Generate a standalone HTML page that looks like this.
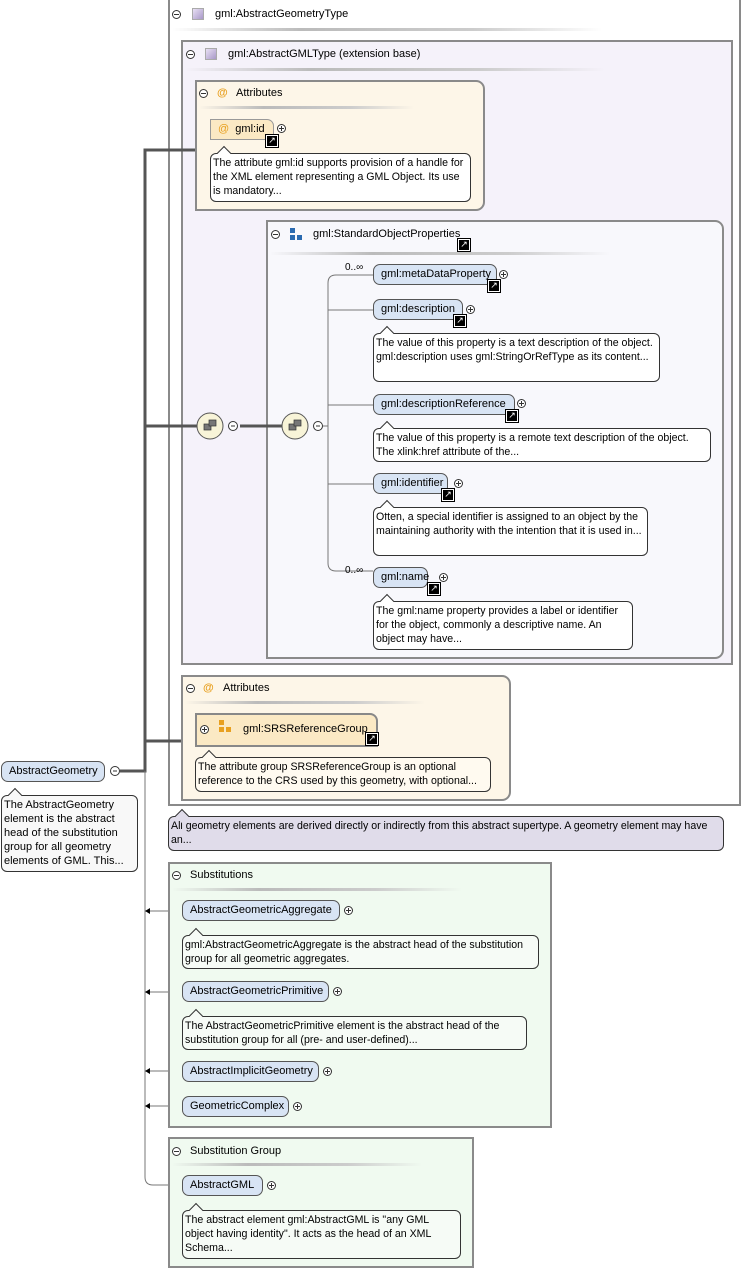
<!DOCTYPE html>
<html><head><meta charset="utf-8"><style>
body{margin:0;width:742px;height:1270px;background:#fff;position:relative;overflow:hidden;font-family:"Liberation Sans",sans-serif;font-size:11px;color:#000}
.a{position:absolute;box-sizing:border-box}
.box{border:2px solid #8a8a8a}
.hdr{position:absolute;white-space:nowrap}
.sep{position:absolute;height:3px;background:linear-gradient(90deg,#fff0,#bbb 30%,#ccc 70%,#fff0)}
.mn{position:absolute;width:9px;height:9px;border:1px solid #333;border-radius:50%;background:#fff;box-sizing:border-box}
.mn:after{content:"";position:absolute;left:1px;right:1px;top:3px;height:1px;background:#333}
.pl:before{content:"";position:absolute;top:1px;bottom:1px;left:3px;width:1px;background:#333}
.el{position:absolute;height:21px;border:1px solid #555;border-radius:7px;background:#d8e4f4;box-sizing:border-box;padding:0 7px;line-height:19px;white-space:nowrap}
.desc{position:absolute;border:1px solid #333;border-radius:6px;background:#fff;box-sizing:border-box;padding:2px 2px;line-height:14px;font-size:10.6px}
.desc:before{content:"";position:absolute;left:8px;top:-6px;width:9px;height:9px;background:inherit;border-left:1px solid #333;border-top:1px solid #333;transform:rotate(45deg)}
.lk{position:absolute;width:10px;height:10px;background:#000;border:1px solid #fff;outline:1px solid #000;color:#fff;font-size:9px;line-height:9px;text-align:center}
.sq{position:absolute;width:12px;height:12px;background:linear-gradient(135deg,#e8e0f4,#a898c8);border:1px solid #aaa;box-sizing:border-box}
.at{position:absolute;color:#e8a020;font-weight:bold}
</style></head><body>

<div class="a box" style="left:168px;top:-2px;width:573px;height:808px;background:#fff"></div>
<div class="mn" style="left:172px;top:10px"></div><div class="sq" style="left:192px;top:8px"></div>
<div class="hdr" style="left:215px;top:8px">gml:AbstractGeometryType</div>
<div class="sep" style="left:172px;top:28px;width:430px"></div>

<div class="a box" style="left:181px;top:40px;width:552px;height:625px;background:#f5f2fa"></div>
<div class="mn" style="left:186px;top:50px"></div><div class="sq" style="left:205px;top:48px"></div>
<div class="hdr" style="left:228px;top:48px">gml:AbstractGMLType (extension base)</div>
<div class="sep" style="left:185px;top:68px;width:420px"></div>

<div class="a box" style="left:195px;top:80px;width:290px;height:131px;background:#fdf6e8;border-radius:0 9px 9px 0"></div>
<div class="mn" style="left:199px;top:89px"></div><div class="at" style="left:217px;top:87px">@</div>
<div class="hdr" style="left:236px;top:87px">Attributes</div>
<div class="sep" style="left:199px;top:106px;width:215px"></div>
<div class="el" style="left:210px;top:119px;width:64px;background:#fbe9c4;border-color:#999;border-radius:0 7px 0 0;padding-left:7px"><span style="color:#e8a020">@</span>&nbsp; gml:id</div>
<div class="lk" style="left:266px;top:135px">↗</div>
<div class="mn pl" style="left:277px;top:124px"></div>
<div class="desc" style="left:210px;top:153px;width:261px;height:49px;background:#fff">The attribute gml:id supports provision of a handle for the XML element representing a GML Object. Its use is mandatory...</div>

<div class="a box" style="left:266px;top:220px;width:458px;height:439px;background:#f8f8fc;border-radius:0 9px 9px 0"></div>
<div class="mn" style="left:271px;top:230px"></div>
<div class="a" style="left:290px;top:228px;width:5px;height:5px;background:#2a6ab0"></div>
<div class="a" style="left:290px;top:235px;width:5px;height:5px;background:#2a6ab0"></div>
<div class="a" style="left:297px;top:235px;width:5px;height:5px;background:#2a6ab0"></div>
<div class="hdr" style="left:313px;top:228px">gml:StandardObjectProperties</div>
<div class="lk" style="left:458px;top:239px">↗</div>
<div class="sep" style="left:270px;top:252px;width:340px"></div>

<svg class="a" style="left:0;top:0" width="742" height="1270">
<g fill="none" stroke="#555" stroke-width="3">
<path d="M120 771 H145 V150 H195"/><path d="M145 426 H197"/><path d="M145 741 H181"/>
<path d="M240 426 H282"/>
</g>
<g fill="none" stroke="#777" stroke-width="1">
<path d="M145 771 V1177 Q145 1185 153 1185 H182"/>
<path d="M323 426 H328"/>
<path d="M373 275 H336 Q328 275 328 283 V563 Q328 571 336 571 H373"/>
<path d="M328 310 H373 M328 405 H373 M328 484 H373"/>
<path d="M145 911 H182 M145 992 H182 M145 1071 H182 M145 1106 H182"/>
</g>
<g fill="#000"><path d="M145 911 l5 -3 v6z M145 992 l5 -3 v6z M145 1071 l5 -3 v6z M145 1106 l5 -3 v6z"/></g>
<g stroke="#555" stroke-width="1" fill="#f8f4d8"><circle cx="210" cy="426" r="13"/><circle cx="295" cy="426" r="13"/></g>
<g fill="#777" stroke="#333" stroke-width=".7"><rect x="204" y="424" width="7" height="6"/><rect x="209" y="420" width="7" height="6"/><rect x="289" y="424" width="7" height="6"/><rect x="294" y="420" width="7" height="6"/></g>
<g fill="#fff" stroke="#333"><circle cx="233" cy="426" r="4.5"/><circle cx="318" cy="426" r="4.5"/><circle cx="115" cy="771" r="4.5"/></g>
<g stroke="#333"><path d="M231 426h4M316 426h4M113 771h4"/></g>
</svg>

<div class="hdr" style="left:345px;top:262px;font-size:10px">0..∞</div>
<div class="el" style="left:373px;top:264px;width:124px">gml:metaDataProperty</div>
<div class="lk" style="left:488px;top:280px">↗</div><div class="mn pl" style="left:499px;top:270px"></div>
<div class="el" style="left:373px;top:299px;width:90px">gml:description</div>
<div class="lk" style="left:454px;top:315px">↗</div><div class="mn pl" style="left:466px;top:305px"></div>
<div class="desc" style="left:373px;top:333px;width:287px;height:49px">The value of this property is a text description of the object. gml:description uses gml:StringOrRefType as its content...</div>
<div class="el" style="left:373px;top:394px;width:142px">gml:descriptionReference</div>
<div class="lk" style="left:506px;top:410px">↗</div><div class="mn pl" style="left:517px;top:399px"></div>
<div class="desc" style="left:373px;top:428px;width:338px;height:34px">The value of this property is a remote text description of the object. The xlink:href attribute of the...</div>
<div class="el" style="left:373px;top:473px;width:75px">gml:identifier</div>
<div class="lk" style="left:442px;top:489px">↗</div><div class="mn pl" style="left:454px;top:479px"></div>
<div class="desc" style="left:373px;top:507px;width:275px;height:49px">Often, a special identifier is assigned to an object by the maintaining authority with the intention that it is used in...</div>
<div class="hdr" style="left:345px;top:565px;font-size:10px">0..∞</div>
<div class="el" style="left:373px;top:567px;width:55px">gml:name</div>
<div class="lk" style="left:428px;top:583px">↗</div><div class="mn pl" style="left:439px;top:573px"></div>
<div class="desc" style="left:373px;top:601px;width:260px;height:49px">The gml:name property provides a label or identifier for the object, commonly a descriptive name. An object may have...</div>

<div class="a box" style="left:181px;top:675px;width:330px;height:126px;background:#fdf6e8;border-radius:0 9px 9px 0"></div>
<div class="mn" style="left:186px;top:684px"></div><div class="at" style="left:203px;top:682px">@</div>
<div class="hdr" style="left:223px;top:682px">Attributes</div>
<div class="sep" style="left:185px;top:701px;width:240px"></div>
<div class="a" style="left:195px;top:713px;width:183px;height:34px;background:#fbe9c4;border:2px solid #888;border-radius:0 8px 0 0"></div>
<div class="mn pl" style="left:200px;top:725px"></div>
<div class="a" style="left:219px;top:720px;width:5px;height:5px;background:#e8a020"></div>
<div class="a" style="left:219px;top:727px;width:5px;height:5px;background:#e8a020"></div>
<div class="a" style="left:226px;top:727px;width:5px;height:5px;background:#e8a020"></div>
<div class="hdr" style="left:243px;top:723px">gml:SRSReferenceGroup</div>
<div class="lk" style="left:366px;top:733px">↗</div>
<div class="desc" style="left:195px;top:757px;width:296px;height:35px;background:#fffaf0">The attribute group SRSReferenceGroup is an optional reference to the CRS used by this geometry, with optional...</div>

<div class="el" style="left:1px;top:761px;width:104px">AbstractGeometry</div>
<div class="desc" style="left:1px;top:795px;width:137px;height:77px;background:#f8f8f8;font-size:11px">The AbstractGeometry element is the abstract head of the substitution group for all geometry elements of GML. This...</div>

<div class="desc" style="left:168px;top:816px;width:556px;height:35px;background:#e0dcea">All geometry elements are derived directly or indirectly from this abstract supertype. A geometry element may have an...</div>

<div class="a box" style="left:168px;top:862px;width:384px;height:266px;background:#f0faf0"></div>
<div class="mn" style="left:172px;top:871px"></div>
<div class="hdr" style="left:190px;top:869px">Substitutions</div>
<div class="sep" style="left:172px;top:888px;width:290px"></div>
<div class="el" style="left:182px;top:900px;width:158px">AbstractGeometricAggregate</div><div class="mn pl" style="left:344px;top:906px"></div>
<div class="desc" style="left:182px;top:935px;width:357px;height:34px;background:#f6fbf6">gml:AbstractGeometricAggregate is the abstract head of the substitution group for all geometric aggregates.</div>
<div class="el" style="left:182px;top:981px;width:147px">AbstractGeometricPrimitive</div><div class="mn pl" style="left:333px;top:987px"></div>
<div class="desc" style="left:182px;top:1016px;width:345px;height:34px;background:#f6fbf6">The AbstractGeometricPrimitive element is the abstract head of the substitution group for all (pre- and user-defined)...</div>
<div class="el" style="left:182px;top:1061px;width:137px">AbstractImplicitGeometry</div><div class="mn pl" style="left:323px;top:1067px"></div>
<div class="el" style="left:182px;top:1096px;width:107px">GeometricComplex</div><div class="mn pl" style="left:293px;top:1102px"></div>

<div class="a box" style="left:168px;top:1137px;width:306px;height:131px;background:#f0faf0"></div>
<div class="mn" style="left:172px;top:1147px"></div>
<div class="hdr" style="left:190px;top:1145px">Substitution Group</div>
<div class="sep" style="left:172px;top:1163px;width:250px"></div>
<div class="el" style="left:182px;top:1175px;width:81px">AbstractGML</div><div class="mn pl" style="left:267px;top:1181px"></div>
<div class="desc" style="left:182px;top:1210px;width:279px;height:49px;background:#f6fbf6">The abstract element gml:AbstractGML is "any GML object having identity". It acts as the head of an XML Schema...</div>
</body></html>
